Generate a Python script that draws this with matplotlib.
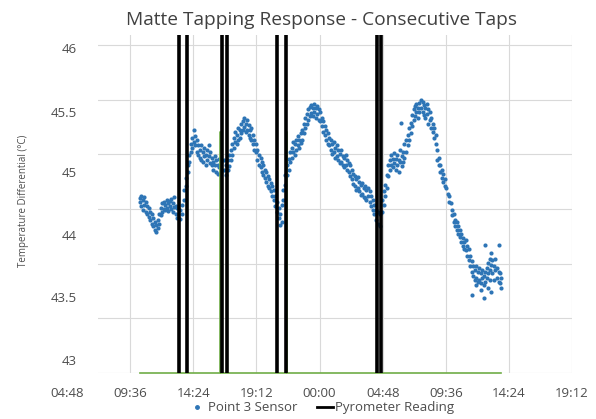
import matplotlib
matplotlib.use("Agg")
import matplotlib.pyplot as plt
from matplotlib.lines import Line2D
from matplotlib.ticker import FixedLocator, FuncFormatter, MultipleLocator

# ---------------- data (hours since 00:00 of day 1) ----------------
# Point 3 sensor readings: one entry of hours, a tuple of readings per slot
sensor_hours = [
    10.33, 10.44, 10.56, 10.67, 10.79, 10.90, 11.02, 11.13, 11.24, 11.36,
    11.47, 11.58, 11.70, 11.81, 11.93, 12.04, 12.15, 12.27, 12.38, 12.49,
    12.61, 12.72, 12.84, 12.95, 13.06, 13.18, 13.36, 13.52, 13.67, 13.82,
    13.97, 14.09, 14.20, 14.32, 14.43, 14.54, 14.66, 14.77, 14.88, 15.00,
    15.11, 15.23, 15.34, 15.45, 15.57, 15.68, 15.79, 15.91, 16.02, 16.13,
    16.25, 16.36, 16.47, 16.70, 16.86,
    17.01, 17.12, 17.24, 17.35, 17.46, 17.58, 17.69, 17.80, 17.92, 18.03,
    18.14, 18.26, 18.37, 18.48, 18.60, 18.71, 18.82, 18.94, 19.05, 19.17,
    19.28, 19.39, 19.51, 19.62, 19.73, 19.85, 19.96, 20.07, 20.19, 20.30,
    20.41, 20.53, 20.64, 20.75, 20.88, 21.00, 21.11, 21.22, 21.34,
    21.56, 21.67, 21.78, 21.90, 22.01, 22.12, 22.24, 22.35, 22.47, 22.58,
    22.69, 22.81, 22.92, 23.03, 23.15, 23.26, 23.37, 23.49, 23.60, 23.71,
    23.83, 23.94, 24.05, 24.17, 24.28, 24.39, 24.51, 24.62, 24.74, 24.85,
    24.96, 25.08, 25.19, 25.30, 25.42, 25.53, 25.65, 25.76, 25.87, 25.99,
    26.10, 26.21, 26.33, 26.44, 26.55, 26.67, 26.78, 26.89, 27.01, 27.12,
    27.23, 27.35, 27.46, 27.57, 27.69, 27.80, 27.91, 28.03, 28.14, 28.26,
    28.45, 28.57,
    28.76, 28.87, 28.99, 29.10, 29.21, 29.33, 29.44, 29.55, 29.67, 29.78,
    29.90, 30.01, 30.12, 30.20, 30.24, 30.35, 30.46, 30.58, 30.69, 30.81,
    30.92, 31.03, 31.15, 31.26, 31.37, 31.49, 31.60, 31.71, 31.83, 31.94,
    32.05, 32.17, 32.28, 32.39, 32.51, 32.62, 32.73, 32.85, 32.96, 33.07,
    33.19, 33.30, 33.41, 33.53, 33.64, 33.75, 33.87, 33.98, 34.09, 34.21,
    34.32, 34.43, 34.55, 34.66, 34.77, 34.89, 35.00, 35.11, 35.23, 35.34,
    35.45, 35.57, 35.68, 35.79, 35.91, 36.02, 36.13, 36.25, 36.36, 36.47,
    36.59, 36.70, 36.81, 36.93, 37.04, 37.15, 37.27, 37.38, 37.49, 37.61,
    37.72, 37.83,
]
sensor_temps = [
    (44.60, 44.56), (44.62, 44.53), (44.58, 44.49), (44.61, 44.54), (44.56, 44.47),
    (44.53, 44.45), (44.51, 44.43), (44.47, 44.40), (44.45, 44.36), (44.42, 44.34),
    (44.38, 44.31), (44.35, 44.29), (44.40, 44.33), (44.45, 44.36), (44.51, 44.44),
    (44.55, 44.47), (44.56, 44.50), (44.54, 44.49), (44.58, 44.51), (44.55, 44.48),
    (44.53, 44.57), (44.59, 44.50), (44.55, 44.47), (44.61, 44.52), (44.53, 44.45),
    (44.51, 44.42), (44.49, 44.41), (44.54, 44.45), (44.67, 44.58), (44.78, 44.71),
    (44.90, 44.84), (44.99, 44.93), (45.09, 45.02), (45.15, 45.06), (45.22, 45.11),
    (45.17, 45.08), (45.13, 45.02), (45.08, 44.99), (45.04, 44.97), (45.08, 44.95),
    (45.02, 44.93), (45.06, 44.98), (44.99, 44.90), (45.04, 44.95), (45.08, 44.98),
    (45.02, 44.92), (44.97, 44.90), (44.93, 44.86), (44.98, 44.90), (44.95, 44.84),
    (44.90, 44.82), (44.96, 44.88), (44.93, 44.84), (44.95, 44.86), (44.90, 44.81),
    (44.95, 44.86), (44.99, 44.89), (45.04, 44.95), (45.09, 44.99), (45.15, 45.06),
    (45.20, 45.11), (45.18, 45.09), (45.24, 45.13), (45.22, 45.15), (45.28, 45.19),
    (45.30, 45.22), (45.33, 45.25), (45.28, 45.20), (45.31, 45.22), (45.27, 45.18),
    (45.22, 45.15), (45.24, 45.13), (45.18, 45.09), (45.13, 45.04), (45.09, 45.02),
    (45.04, 44.95), (44.99, 44.90), (44.97, 44.88), (44.93, 44.84), (44.90, 44.81),
    (44.86, 44.78), (44.84, 44.75), (44.80, 44.71), (44.77, 44.69), (44.74, 44.66),
    (44.71, 44.62), (44.67, 44.58), (44.62, 44.53), (44.56, 44.47), (44.51, 44.42),
    (44.45, 44.35), (44.54, 44.38), (44.67, 44.58), (44.81, 44.72),
    (44.90, 44.81), (44.96, 44.86), (45.02, 44.93), (45.06, 44.97), (45.11, 45.02),
    (45.09, 44.99), (45.13, 45.04), (45.17, 45.08), (45.13, 45.06), (45.19, 45.10),
    (45.22, 45.13), (45.28, 45.19), (45.33, 45.24), (45.37, 45.28), (45.41, 45.31),
    (45.43, 45.35), (45.45, 45.38), (45.42, 45.35), (45.46, 45.39), (45.42, 45.33),
    (45.44, 45.37), (45.41, 45.31), (45.39, 45.30), (45.33, 45.26), (45.30, 45.20),
    (45.26, 45.18), (45.22, 45.13), (45.19, 45.09), (45.15, 45.08), (45.13, 45.04),
    (45.09, 45.00), (45.11, 45.02), (45.06, 44.97), (45.08, 44.98), (45.04, 44.95),
    (45.00, 44.92), (45.04, 44.93), (44.98, 44.90), (44.97, 44.88), (44.99, 44.90),
    (44.95, 44.86), (44.92, 44.84), (44.90, 44.80), (44.86, 44.77), (44.82, 44.73),
    (44.80, 44.71), (44.77, 44.67), (44.79, 44.69), (44.75, 44.66), (44.72, 44.63),
    (44.74, 44.64), (44.69, 44.61), (44.71, 44.60), (44.67, 44.58), (44.69, 44.62),
    (44.66, 44.56), (44.62, 44.53), (44.58, 44.49), (44.54, 44.45), (44.49, 44.40),
    (44.47, 44.36), (44.45, 44.34),
    (44.58, 44.47), (44.66, 44.54), (44.72, 44.62), (44.81, 44.69), (44.90, 44.80),
    (44.95, 44.86), (44.99, 44.90), (44.96, 44.88), (45.01, 44.92), (44.96, 44.86),
    (44.99, 44.90), (44.95, 44.84), (45.04, 44.93), (45.29,), (44.98, 44.89),
    (45.02, 44.93), (45.09, 44.97), (45.13, 45.02), (45.18, 45.08), (45.24, 45.13),
    (45.29, 45.19), (45.36, 45.26), (45.41, 45.31), (45.44, 45.35), (45.46, 45.39),
    (45.42, 45.33), (45.47, 45.39), (45.50, 45.42), (45.48, 45.39), (45.45, 45.36),
    (45.42, 45.33), (45.46, 45.37), (45.41, 45.28), (45.39, 45.31), (45.33, 45.24),
    (45.28, 45.20), (45.24, 45.15), (45.18, 45.09), (45.04, 44.95), (44.97, 44.90),
    (44.90, 44.84), (44.86, 44.78), (44.82, 44.75), (44.77, 44.71), (44.69,),
    (44.64,), (44.62, 44.56), (44.55,), (44.49, 44.44), (44.45, 44.38),
    (44.40, 44.34), (44.38, 44.31), (44.34, 44.27), (44.31, 44.24), (44.27, 44.20),
    (44.23, 44.16), (44.20, 44.13), (44.22, 44.12), (44.16, 44.07), (44.13, 44.03),
    (44.07, 43.98), (44.02, 43.92, 43.71), (43.98, 43.89), (43.94, 43.85), (43.98, 43.87, 43.80),
    (43.92, 43.83), (43.96, 43.85), (43.91, 43.82, 43.76), (43.94, 43.87), (43.89, 43.80, 43.69),
    (44.17, 43.92, 43.83), (43.96, 43.87), (44.01, 43.91, 43.78), (44.04, 43.94, 43.85), (44.10, 43.99, 43.74),
    (44.03, 43.91), (43.98, 43.85), (44.04, 43.94), (43.96, 43.87), (44.17, 43.92, 43.83),
    (43.91, 43.82), (43.87, 43.78),
]

# Pyrometer reading: spikes at each tap (off-scale high), zero otherwise
pyro_hours = [10.3, 13.29, 13.29, 13.90, 13.90, 16.55, 16.55, 16.93, 16.93,
              20.80, 20.80, 21.48, 21.48, 28.38, 28.38, 28.68, 28.68, 37.8]
pyro_values = [0, 0, 1200, 1200, 0, 0, 1200, 1200, 0,
               0, 1200, 1200, 0, 0, 1200, 1200, 0, 0]

# green base series
base_hours = [10.33, 16.42, 16.42, 16.47, 16.47, 21.44, 21.44, 21.52, 21.52, 37.78]
base_values = [43, 43, 45.2, 45.2, 43, 43, 45.2, 45.2, 43, 43]

y_label_pos = [45.973, 45.387, 44.838, 44.262, 43.695, 43.119]
y_label_txt = ["46", "45.5", "45", "44", "43.5", "43"]
x_ticks = [9.6, 14.4, 19.2, 24.0, 28.8, 33.6, 38.4, 43.2]

xs, ys = [], []
for h, vals in zip(sensor_hours, sensor_temps):
    for v in vals:
        xs.append(h)
        ys.append(v)

grey = "#4d4d4d"
plt.rcParams['font.family'] = ['Open Sans', 'DejaVu Sans']

fig = plt.figure(figsize=(5.96, 4.19), dpi=100)
ax = fig.add_axes([98 / 596, 1 - 373 / 419, 474 / 596, 338 / 419])

ax.scatter(xs, ys, s=9, color="#2E75B6", linewidths=0, zorder=3)
ax.plot(base_hours, base_values, color="#70AD47", lw=1.2, zorder=4, clip_on=False)
ax.plot(pyro_hours, pyro_values, color="black", lw=2.6, zorder=5)

ax.set_xlim(7.15, 43.2)
ax.set_ylim(43, 46.09)

ax.xaxis.set_major_locator(FixedLocator(x_ticks))
ax.xaxis.set_major_formatter(FuncFormatter(
    lambda h, p: "%02d:%02d" % (int(round(h * 60)) // 60 % 24, int(round(h * 60)) % 60)))
ax.yaxis.set_major_locator(FixedLocator(y_label_pos))
ax.set_yticklabels(y_label_txt)
ax.yaxis.set_minor_locator(MultipleLocator(0.5))

ax.grid(True, axis='x', which='major', color="#D9D9D9", lw=0.8)
ax.grid(True, axis='y', which='minor', color="#D9D9D9", lw=0.8)
ax.set_axisbelow(True)
for s in ax.spines.values():
    s.set_visible(False)
ax.tick_params(axis='both', which='both', length=0, colors=grey, labelsize=9.5)
ax.tick_params(axis='x', pad=10)
ax.tick_params(axis='y', pad=15)

# first time label sits left of the plot area
ax.annotate("04:48", xy=(4.8, 0), xycoords=('data', 'axes fraction'),
            xytext=(0, -10), textcoords='offset points', ha='center', va='top',
            fontsize=9.5, color=grey, annotation_clip=False)

ax.set_ylabel("Temperature Differential (°C)", fontsize=7, color=grey)
ax.yaxis.set_label_coords(-0.145, 0.51)
fig.text(0.54, 0.953, "Matte Tapping Response - Consecutive Taps", ha='center', va='center',
         fontsize=13.8, color="#404040")

handles = [Line2D([], [], color="#2E75B6", marker='o', markersize=2.5, lw=0),
           Line2D([], [], color="black", lw=2)]
fig.legend(handles, ["Point 3 Sensor", "Pyrometer Reading"], loc='center',
           bbox_to_anchor=(0.54, 0.027), ncol=2, frameon=False, fontsize=9.5,
           labelcolor=grey, handlelength=1.2, handletextpad=0.2, columnspacing=1.5)

fig.savefig("out.png", dpi=100)
